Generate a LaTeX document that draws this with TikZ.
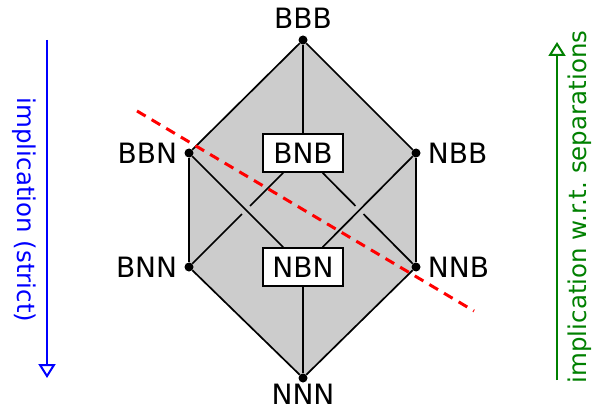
\documentclass[tikz,border=0pt]{standalone}
\usepackage{fontspec}
\setmainfont{DejaVu Sans}
\usetikzlibrary{arrows.meta}
\tikzset{
  dotnode/.style={circle, fill=black, inner sep=0pt, minimum size=9pt},
  lab/.style={font=\fontsize{28}{32}\selectfont, inner sep=7pt},
  boxnode/.style={draw=black, line width=1.7pt, fill=white, minimum width=80pt, minimum height=38pt, inner sep=0pt, font=\fontsize{28}{32}\selectfont},
  edge/.style={black, line width=1.7pt},
  overedge/.style={edge, preaction={draw=black!20, line width=11pt, shorten <=12pt, shorten >=12pt}},
  sidelab/.style={font=\fontsize{24.5}{28}\selectfont},
}
\begin{document}
\begin{tikzpicture}[x=1pt,y=-1pt]
\useasboundingbox (0,0) rectangle (596,414);
% positions
\coordinate (pBBB) at (303,40);
\coordinate (pBBN) at (189,153);
\coordinate (pNBB) at (416,153);
\coordinate (pBNN) at (189,267);
\coordinate (pNNB) at (416,267);
\coordinate (pNNN) at (303,378);
\coordinate (pBNB) at (303,153);
\coordinate (pNBN) at (303,267);
% gray body
\fill[black!20] (pBBB) -- (pNBB) -- (pNNB) -- (pNNN) -- (pBNN) -- (pBBN) -- cycle;
% nodes
\node[dotnode, label={[lab]above:BBB}] (bbb) at (pBBB) {};
\node[dotnode, label={[lab]left:BBN}] (bbn) at (pBBN) {};
\node[dotnode, label={[lab]right:NBB}] (nbb) at (pNBB) {};
\node[dotnode, label={[lab]left:BNN}] (bnn) at (pBNN) {};
\node[dotnode, label={[lab]right:NNB}] (nnb) at (pNNB) {};
\node[dotnode, label={[lab, inner sep=3pt, yshift=2pt]below:NNN}] (nnn) at (pNNN) {};
\node[boxnode] (bnb) at (pBNB) {BNB};
\node[boxnode] (nbn) at (pNBN) {NBN};
% edges
\draw[edge] (bbb) -- (bbn);
\draw[edge] (bbb) -- (nbb);
\draw[edge] (bbb) -- (bnb);
\draw[edge] (bbn) -- (bnn);
\draw[edge] (nbb) -- (nnb);
\draw[edge] (bnb) -- (bnn);
\draw[edge] (bnb) -- (nnb);
\draw[overedge] (bbn) -- (nbn);
\draw[overedge] (nbb) -- (nbn);
\draw[edge] (bnn) -- (nnn);
\draw[edge] (nnb) -- (nnn);
\draw[edge] (nbn) -- (nnn);
% red separation line
\coordinate (r1) at (137,111);
\coordinate (r2) at (474,311);
\draw[red, line width=3pt, dash pattern=on 10pt off 7pt] (r1) -- (r2);
% side arrows
\coordinate (bt) at (47,40);
\coordinate (bb) at (47,378);
\draw[blue, line width=2pt, -{Triangle[open, length=14pt, width=17pt]}] (bt) -- (bb);
\node[sidelab, blue, rotate=-90] (tl) at (24,210) {implication (strict)};
\coordinate (gb) at (557,380);
\coordinate (gt) at (557,42);
\draw[green!50!black, line width=2pt, -{Triangle[open, length=14pt, width=17pt]}] (gb) -- (gt);
\node[sidelab, green!50!black, rotate=90] (tr) at (580,207) {implication w.r.t.\ separations};
\end{tikzpicture}
\end{document}
